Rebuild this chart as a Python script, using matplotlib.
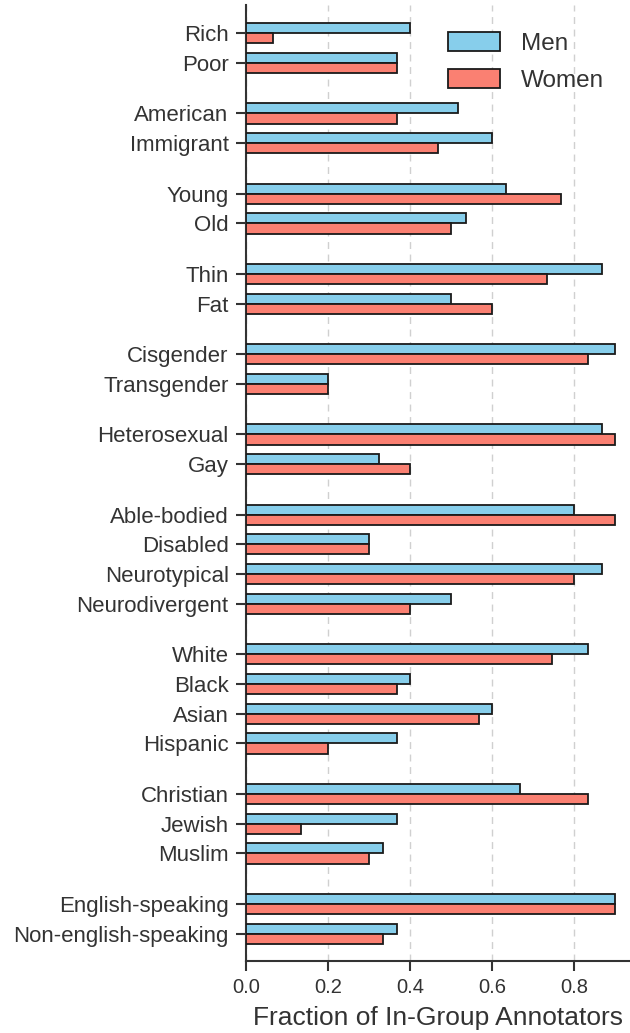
import matplotlib
matplotlib.use("Agg")
import matplotlib.pyplot as plt
import numpy as np

# Identity groups (top to bottom) and in-group annotator fractions
groups = [
    ["Rich", "Poor"],
    ["American", "Immigrant"],
    ["Young", "Old"],
    ["Thin", "Fat"],
    ["Cisgender", "Transgender"],
    ["Heterosexual", "Gay"],
    ["Able-bodied", "Disabled", "Neurotypical", "Neurodivergent"],
    ["White", "Black", "Asian", "Hispanic"],
    ["Christian", "Jewish", "Muslim"],
    ["English-speaking", "Non-english-speaking"],
]

men = [0.400, 0.367,
       0.517, 0.600,
       0.633, 0.537,
       0.867, 0.500,
       0.900, 0.200,
       0.867, 0.325,
       0.800, 0.300, 0.867, 0.500,
       0.833, 0.400, 0.600, 0.367,
       0.667, 0.367, 0.333,
       0.900, 0.367]

women = [0.067, 0.367,
         0.367, 0.467,
         0.767, 0.500,
         0.733, 0.600,
         0.833, 0.200,
         0.900, 0.400,
         0.900, 0.300, 0.800, 0.400,
         0.745, 0.367, 0.567, 0.200,
         0.833, 0.133, 0.300,
         0.900, 0.333]

series_names = ["Men", "Women"]
series_colors = ["#87CEEB", "#FA8072"]

plt.rcParams["font.family"] = ["Liberation Sans", "DejaVu Sans"]
text_color = "#333333"

# y positions: unit step inside a group, wider step between groups
labels, ypos = [], []
y = 0.0
for gi, g in enumerate(groups):
    if gi > 0:
        y += 0.7
    for name in g:
        labels.append(name)
        ypos.append(y)
        y += 1.0
ypos = np.array(ypos)

fig = plt.figure(figsize=(6.30, 10.33), dpi=100)
ax = fig.add_axes([246 / 630, 72 / 1033, 384 / 630, 956 / 1033])

h = 0.34
ax.barh(ypos - h / 2, men, height=h, color=series_colors[0],
        edgecolor="#1a1a1a", linewidth=1.3, label=series_names[0], zorder=3)
ax.barh(ypos + h / 2, women, height=h, color=series_colors[1],
        edgecolor="#1a1a1a", linewidth=1.3, label=series_names[1], zorder=3)

ax.set_yticks(ypos)
ax.set_yticklabels(labels, fontsize=16, color=text_color)
ax.set_ylim(ypos[-1] + 0.92, -0.95)
ax.set_xlim(0, 0.936)
ax.set_xticks([0.0, 0.2, 0.4, 0.6, 0.8])
ax.set_xticklabels(["0.0", "0.2", "0.4", "0.6", "0.8"], fontsize=14.5, color=text_color)
ax.set_xlabel("Fraction of In-Group Annotators", fontsize=19, color=text_color, labelpad=7)

ax.xaxis.grid(True, linestyle=(0, (5, 4)), color="#d0d0d0", linewidth=1.0, zorder=0)
ax.set_axisbelow(True)

for side in ["top", "right"]:
    ax.spines[side].set_visible(False)
for side in ["left", "bottom"]:
    ax.spines[side].set_color("#333333")
    ax.spines[side].set_linewidth(1.5)
ax.tick_params(axis="both", direction="out", length=7, width=1.5, color="#333333")
ax.tick_params(axis="y", pad=5.5)
ax.tick_params(axis="x", pad=5)

leg = ax.legend(loc="upper right", bbox_to_anchor=(0.958, 0.982), frameon=False,
                fontsize=17.5, handlelength=2.15, handleheight=0.8,
                handletextpad=0.85, labelspacing=0.6, borderaxespad=0)
for t in leg.get_texts():
    t.set_color(text_color)

fig.savefig("out.png", dpi=100)
